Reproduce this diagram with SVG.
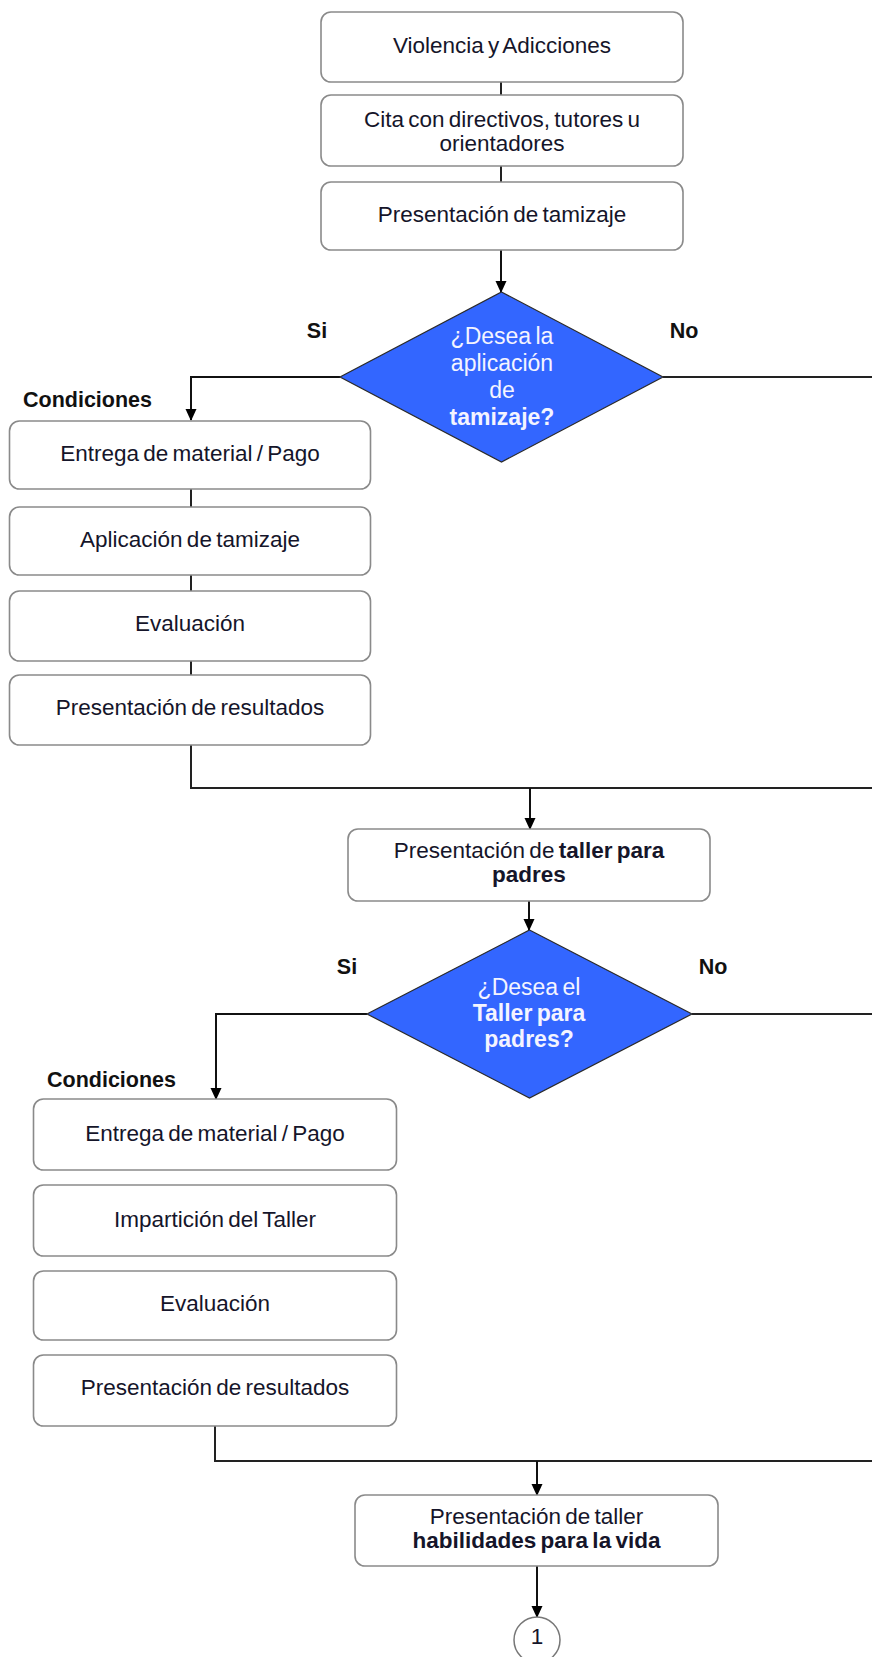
<svg xmlns="http://www.w3.org/2000/svg" width="872" height="1657" viewBox="0 0 872 1657">
<defs>
<marker id="ah" markerWidth="12" markerHeight="13" refX="12" refY="6" orient="auto" markerUnits="userSpaceOnUse" viewBox="0 0 13 12">
<path d="M0,0 L13,6 L0,12 Z" fill="#000"/>
</marker>
</defs>
<style>
.box{fill:#fff;stroke:#8a8a8a;stroke-width:1.6}
.dia{fill:#3366ff;stroke:#2a2a2a;stroke-width:1.2}
.t{font-family:"Liberation Sans",Arial,sans-serif;font-size:22.5px;fill:#15152a;text-anchor:middle;word-spacing:-2px}
.b{font-weight:bold}
.w{font-family:"Liberation Sans",Arial,sans-serif;font-size:23px;fill:#f4f4ff;text-anchor:middle;word-spacing:-2px}
.lbl{font-family:"Liberation Sans",Arial,sans-serif;font-size:21.5px;font-weight:bold;fill:#111}
.c{fill:none;stroke:#222;stroke-width:2}
.ca{fill:none;stroke:#111;stroke-width:2;marker-end:url(#ah)}
</style>
<rect width="872" height="1657" fill="#fff"/>
<g id="connectors">
<path class="c" d="M501,82 V95"/>
<path class="c" d="M501,166 V182"/>
<path class="ca" d="M501,250 V292"/>
<path class="ca" d="M340,377 H191 V420"/>
<path class="c" d="M663,377 H872"/>
<path class="c" d="M191,489 V507"/>
<path class="c" d="M191,575 V591"/>
<path class="c" d="M191,661 V675"/>
<path class="c" d="M191,745 V788 H872"/>
<path class="ca" d="M530,788 V829"/>
<path class="ca" d="M529,901 V930"/>
<path class="ca" d="M367,1014 H216 V1099"/>
<path class="c" d="M692,1014 H872"/>
<path class="c" d="M215,1426 V1461 H872"/>
<path class="ca" d="M537,1461 V1495"/>
<path class="ca" d="M537,1566 V1617"/>
</g>
<g id="n1"><rect class="box" x="321" y="12" width="362" height="70" rx="10"/><text class="t" x="502" y="53">Violencia y Adicciones</text></g>
<g id="n2"><rect class="box" x="321" y="95" width="362" height="71" rx="10"/><text class="t" x="502" y="127">Cita con directivos, tutores u</text><text class="t" x="502" y="150.5">orientadores</text></g>
<g id="n3"><rect class="box" x="321" y="182" width="362" height="68" rx="10"/><text class="t" x="502" y="222">Presentación de tamizaje</text></g>
<g id="d1"><polygon class="dia" points="501.5,292 663,377 501.5,462 340,377"/>
<text class="w" x="502" y="344">¿Desea la</text><text class="w" x="502" y="371">aplicación</text><text class="w" x="502" y="397.5">de</text><text class="w b" x="502" y="425">tamizaje?</text></g>
<g id="lbl1"><text class="lbl" x="317" y="337.5" text-anchor="middle">Si</text><text class="lbl" x="684" y="337.5" text-anchor="middle">No</text><text class="lbl" x="23" y="407">Condiciones</text></g>
<g id="a1"><rect class="box" x="9.5" y="421" width="361" height="68" rx="10"/><text class="t" x="190" y="461">Entrega de material / Pago</text></g>
<g id="a2"><rect class="box" x="9.5" y="507" width="361" height="68" rx="10"/><text class="t" x="190" y="547">Aplicación de tamizaje</text></g>
<g id="a3"><rect class="box" x="9.5" y="591" width="361" height="70" rx="10"/><text class="t" x="190" y="630.5">Evaluación</text></g>
<g id="a4"><rect class="box" x="9.5" y="675" width="361" height="70" rx="10"/><text class="t" x="190" y="715">Presentación de resultados</text></g>
<g id="n4"><rect class="box" x="348" y="829" width="362" height="72" rx="10"/><text class="t" x="529" y="858">Presentación de <tspan class="b">taller para</tspan></text><text class="t b" x="529" y="881.5">padres</text></g>
<g id="d2"><polygon class="dia" points="529.5,930 692,1014 529.5,1098 367,1014"/>
<text class="w" x="529" y="995">¿Desea el</text><text class="w b" x="529" y="1021">Taller para</text><text class="w b" x="529" y="1047">padres?</text></g>
<g id="lbl2"><text class="lbl" x="347" y="974" text-anchor="middle">Si</text><text class="lbl" x="713" y="974" text-anchor="middle">No</text><text class="lbl" x="47" y="1087">Condiciones</text></g>
<g id="b1"><rect class="box" x="33.5" y="1099" width="363" height="71" rx="10"/><text class="t" x="215" y="1141">Entrega de material / Pago</text></g>
<g id="b2"><rect class="box" x="33.5" y="1185" width="363" height="71" rx="10"/><text class="t" x="215" y="1227">Impartición del Taller</text></g>
<g id="b3"><rect class="box" x="33.5" y="1271" width="363" height="69" rx="10"/><text class="t" x="215" y="1310.5">Evaluación</text></g>
<g id="b4"><rect class="box" x="33.5" y="1355" width="363" height="71" rx="10"/><text class="t" x="215" y="1394.5">Presentación de resultados</text></g>
<g id="n5"><rect class="box" x="355" y="1495" width="363" height="71" rx="10"/><text class="t" x="536.5" y="1523.5">Presentación de taller</text><text class="t b" x="536.5" y="1547.5">habilidades para la vida</text></g>
<g id="n6"><circle cx="537" cy="1640" r="23" fill="#fff" stroke="#777" stroke-width="1.5"/><text class="t" x="537" y="1643.5">1</text></g>
</svg>
